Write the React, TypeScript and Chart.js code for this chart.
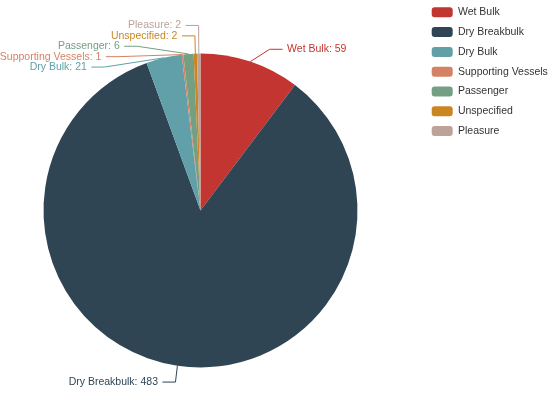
import React, { useEffect, useRef } from 'react';
import { Chart, registerables } from 'chart.js';

Chart.register(...registerables);

// ---- data ----
const categories = ['Wet Bulk', 'Dry Breakbulk', 'Dry Bulk', 'Supporting Vessels', 'Passenger', 'Unspecified', 'Pleasure'];
const values = [59, 483, 21, 1, 6, 2, 2];
const colors = ['#c23531', '#2f4554', '#61a0a8', '#d48265', '#749f83', '#ca8622', '#bda29a'];

// ---- styling / layout constants ----
const W = 550;
const H = 393;
const FONT_FAMILY = '"Liberation Sans", Arial, Helvetica, sans-serif';
const FONT_SIZE = 10.5;
const PIE_RADIUS = 157;
const PIE_CX = 200.5;
const PIE_CY = 210.5;
const LINE_LEN1 = 13;
const LINE_LEN2 = 13;
const LABEL_DIST = 4.5;
const LABEL_H = 10.4;
const LEGEND_BOX_W = 21;
const LEGEND_BOX_H = 10;
const LEGEND_PAD = 9.3;
const LEGEND_X = 431.7;
const LEGEND_FIRST_BOX_TOP = 7.3;

type LabelLayout = {
  idx: number;
  x: number;
  y: number;
  height: number;
  len: number;
  len2: number;
  linePoints: number[][];
  textAlign: CanvasTextAlign;
};

function adjustSingleSide(list: LabelLayout[], cx: number, cy: number, r: number, dir: number, viewHeight: number, viewTop: number) {
  list.sort((a, b) => a.y - b.y);
  function shiftUp(end: number, delta: number) {
    for (let j = end; j >= 0; j--) {
      if (list[j].y - delta < viewTop) break;
      list[j].y -= delta;
      if (j > 0 && list[j].y > list[j - 1].y + list[j - 1].height) break;
    }
  }
  function shiftDown(start: number, end: number, delta: number) {
    for (let j = start; j < end; j++) {
      if (list[j].y + delta > viewTop + viewHeight) break;
      list[j].y += delta;
      if (j > start && j + 1 < end && list[j + 1].y > list[j].y + list[j].height) {
        shiftUp(j, delta / 2);
        return;
      }
    }
    shiftUp(end - 1, delta / 2);
  }
  function changeX(items: LabelLayout[], isDownList: boolean) {
    let lastDeltaX = isDownList ? Number.MAX_VALUE : 0;
    for (const it of items) {
      const deltaY = Math.abs(it.y - cy);
      const R = r + it.len + it.len2;
      let deltaX = deltaY < r + it.len ? Math.sqrt(R * R - deltaY * deltaY) : Math.abs(it.x - cx);
      if (isDownList && deltaX >= lastDeltaX) deltaX = lastDeltaX - 10;
      if (!isDownList && deltaX <= lastDeltaX) deltaX = lastDeltaX + 10;
      it.x = cx + deltaX * dir;
      lastDeltaX = deltaX;
    }
  }
  let lastY = 0;
  const len = list.length;
  for (let i = 0; i < len; i++) {
    const delta = list[i].y - lastY;
    if (delta < 0) shiftDown(i, len, -delta);
    lastY = list[i].y + list[i].height;
  }
  if (len && viewHeight - lastY < 0) shiftUp(len - 1, lastY - viewHeight);
  const up: LabelLayout[] = [];
  const down: LabelLayout[] = [];
  for (const it of list) (it.y >= cy ? down : up).push(it);
  changeX(up, false);
  changeX(down, true);
}

const outerLabelPlugin = {
  id: 'outerLabels',
  afterDraw(chart: any) {
    const meta = chart.getDatasetMeta(0);
    const ctx: CanvasRenderingContext2D = chart.ctx;
    const labels: string[] = chart.data.labels;
    const data: number[] = chart.data.datasets[0].data;
    const bg: string[] = chart.data.datasets[0].backgroundColor;
    let cx = 0, cy = 0, r = 0;
    const layouts: LabelLayout[] = meta.data.map((arc: any, idx: number) => {
      const p = arc.getProps(['x', 'y', 'startAngle', 'endAngle', 'outerRadius'], true);
      cx = p.x; cy = p.y; r = p.outerRadius;
      const mid = (p.startAngle + p.endAngle) / 2;
      const dx = Math.cos(mid);
      const dy = Math.sin(mid);
      const x0 = cx + r * dx;
      const y0 = cy + r * dy;
      const x1 = cx + (r + LINE_LEN1) * dx;
      const y1 = cy + (r + LINE_LEN1) * dy;
      const x2 = x1 + (dx < 0 ? -1 : 1) * LINE_LEN2;
      const textX = x2 + (dx < 0 ? -LABEL_DIST : LABEL_DIST);
      return {
        idx,
        x: textX,
        y: y1,
        height: LABEL_H,
        len: LINE_LEN1,
        len2: LINE_LEN2,
        linePoints: [[x0, y0], [x1, y1], [x2, y1]],
        textAlign: dx < 0 ? 'right' : 'left',
      } as LabelLayout;
    });
    const leftList = layouts.filter((l) => l.x < cx);
    const rightList = layouts.filter((l) => l.x >= cx);
    adjustSingleSide(rightList, cx, cy, r, 1, chart.height, 0);
    adjustSingleSide(leftList, cx, cy, r, -1, chart.height, 0);
    for (const l of layouts) {
      const lp = l.linePoints;
      const dist = lp[1][0] - lp[2][0];
      lp[2][0] = l.x < cx ? l.x + LABEL_DIST : l.x - LABEL_DIST;
      lp[1][0] = lp[2][0] + dist;
      lp[1][1] = lp[2][1] = l.y;
    }
    ctx.save();
    ctx.font = `${FONT_SIZE}px ${FONT_FAMILY}`;
    ctx.textBaseline = 'middle';
    for (const l of layouts) {
      const color = bg[l.idx];
      ctx.strokeStyle = color;
      ctx.lineWidth = 1;
      ctx.beginPath();
      ctx.moveTo(l.linePoints[0][0], l.linePoints[0][1]);
      ctx.lineTo(l.linePoints[1][0], l.linePoints[1][1]);
      ctx.lineTo(l.linePoints[2][0], l.linePoints[2][1]);
      ctx.stroke();
      ctx.fillStyle = color;
      ctx.textAlign = l.textAlign;
      ctx.fillText(`${labels[l.idx]}: ${data[l.idx]}`, l.x, l.y);
    }
    ctx.restore();
  },
};

// moves the legend column to the top-right corner after layout
const legendPlacePlugin = {
  id: 'legendPlace',
  afterLayout(chart: any) {
    const lg = chart.legend;
    if (!lg) return;
    const w = lg.width;
    const h = lg.height;
    lg.left = LEGEND_X - LEGEND_PAD;
    lg.right = lg.left + w;
    lg.top = LEGEND_FIRST_BOX_TOP - LEGEND_PAD - Math.max((FONT_SIZE - LEGEND_BOX_H) / 2, 0);
    lg.bottom = lg.top + h;
  },
};

export default function App() {
  const canvasRef = useRef<HTMLCanvasElement | null>(null);

  useEffect(() => {
    const canvas = canvasRef.current;
    if (!canvas) return;

    // measure legend text to size the right-hand column
    const mctx = document.createElement('canvas').getContext('2d')!;
    mctx.font = `${FONT_SIZE}px ${FONT_FAMILY}`;
    const maxText = Math.max(...categories.map((c) => mctx.measureText(c).width));
    const legendWidth = LEGEND_PAD + LEGEND_BOX_W + FONT_SIZE / 2 + maxText + 10;
    const areaRight = 2 * PIE_CX; // chart area spans [0, 2*cx]
    const padRight = Math.max(W - legendWidth - areaRight, 0);
    const padTop = Math.max(2 * PIE_CY - H, 0);

    const chart = new Chart(canvas, {
      type: 'pie',
      data: {
        labels: categories,
        datasets: [
          {
            data: values,
            backgroundColor: colors,
            borderWidth: 0,
            hoverOffset: 0,
            offset: 0,
            radius: PIE_RADIUS,
          } as any,
        ],
      },
      options: {
        responsive: false,
        animation: false,
        events: [],
        layout: {
          padding: { left: 0, right: padRight, top: padTop, bottom: 0 },
        },
        plugins: {
          tooltip: { enabled: false },
          legend: {
            position: 'right',
            align: 'start',
            labels: {
              boxWidth: LEGEND_BOX_W,
              boxHeight: LEGEND_BOX_H,
              padding: LEGEND_PAD,
              color: '#333',
              useBorderRadius: true,
              borderRadius: 3,
              font: { family: FONT_FAMILY, size: FONT_SIZE },
            },
          },
        },
      },
      plugins: [legendPlacePlugin, outerLabelPlugin],
    });
    return () => chart.destroy();
  }, []);

  return (
    <div style={{ position: 'absolute', left: 0, top: 0, width: W, height: H, background: '#fff' }}>
      <canvas ref={canvasRef} width={W} height={H} style={{ display: 'block', width: W, height: H }} />
    </div>
  );
}
